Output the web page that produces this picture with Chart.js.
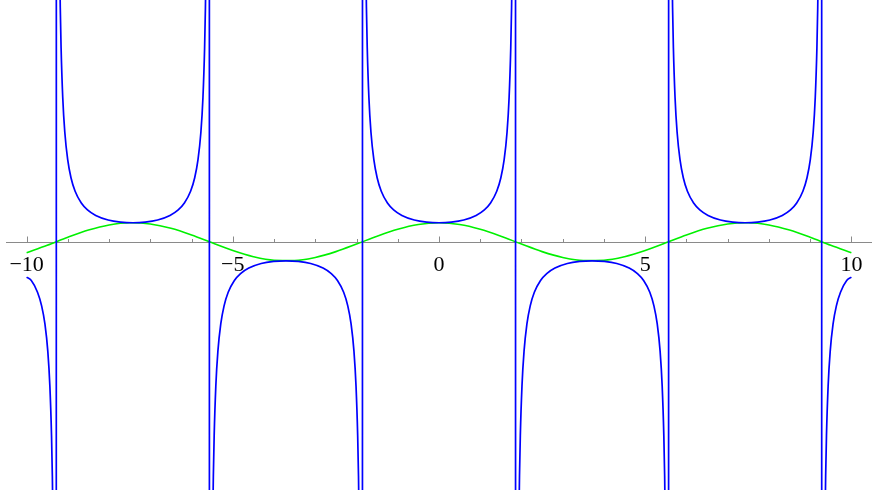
<!DOCTYPE html>
<html>
<head>
<meta charset="utf-8">
<script src="https://cdn.jsdelivr.net/npm/chart.js@4/dist/chart.umd.min.js"></script>
<style>
  html, body { margin: 0; padding: 0; background: #fff; }
  canvas { display: block; }
</style>
</head>
<body>
<canvas id="plot" width="872" height="490"></canvas>
<script>
// values
// green curve: smooth wave crossing the axis, peaks touching the blue curve
var greenX = [-10, -9.5, -9, -8.5, -8, -7.5, -7, -6.5, -6, -5.5, -5, -4.5, -4, -3.5, -3, -2.5, -2, -1.5, -1, -0.5,
              0, 0.5, 1, 1.5, 2, 2.5, 3, 3.5, 4, 4.5, 5, 5.5, 6, 6.5, 7, 7.5, 8, 8.5, 9, 9.5, 10];
var greenY = [-0.286, -0.092, 0.118, 0.307, 0.442, 0.499, 0.468, 0.355, 0.179, -0.029, -0.231, -0.393, -0.485, -0.492, -0.412, -0.259, -0.061, 0.148, 0.331, 0.456,
              0.5, 0.456, 0.331, 0.148, -0.061, -0.259, -0.412, -0.492, -0.485, -0.393, -0.231, -0.029, 0.179, 0.355, 0.468, 0.499, 0.442, 0.307, 0.118, -0.092, -0.286];

// blue curve: one line per branch, joined across the asymptotes by near-vertical segments
var blueX = [
  -10, -9.886, -9.736, -9.636, -9.556, -9.486, -9.436, -9.396, -9.376, -9.356, -9.326, -9.286,
  -9.274, -9.234, -9.204, -9.184, -9.164, -9.124, -9.074, -9.004, -8.924, -8.824, -8.674, -8.524, -8.324, -8.024, -7.724, -7.424,
  -7.124, -6.824, -6.524, -6.324, -6.174, -6.024, -5.924, -5.844, -5.774, -5.724, -5.684, -5.664, -5.644, -5.614, -5.574,
  -5.562, -5.522, -5.492, -5.472, -5.452, -5.412, -5.362, -5.292, -5.212, -5.112, -4.962, -4.812, -4.612, -4.312, -4.012, -3.712,
  -3.412, -3.112, -2.812, -2.612, -2.462, -2.312, -2.212, -2.132, -2.062, -2.012, -1.972, -1.952, -1.932, -1.902, -1.862,
  -1.85, -1.81, -1.78, -1.76, -1.74, -1.7, -1.65, -1.58, -1.5, -1.4, -1.25, -1.1, -0.9, -0.6, -0.3, 0,
  0.3, 0.6, 0.9, 1.1, 1.25, 1.4, 1.5, 1.58, 1.65, 1.7, 1.74, 1.76, 1.78, 1.81, 1.85,
  1.862, 1.902, 1.932, 1.952, 1.972, 2.012, 2.062, 2.132, 2.212, 2.312, 2.462, 2.612, 2.812, 3.112, 3.412, 3.712,
  4.012, 4.312, 4.612, 4.812, 4.962, 5.112, 5.212, 5.292, 5.362, 5.412, 5.452, 5.472, 5.492, 5.522, 5.562,
  5.574, 5.614, 5.644, 5.664, 5.684, 5.724, 5.774, 5.844, 5.924, 6.024, 6.174, 6.324, 6.524, 6.824, 7.124, 7.424,
  7.724, 8.024, 8.324, 8.524, 8.674, 8.824, 8.924, 9.004, 9.074, 9.124, 9.164, 9.184, 9.204, 9.234, 9.274,
  9.286, 9.326, 9.356, 9.376, 9.396, 9.436, 9.486, 9.556, 9.636, 9.736, 9.886, 10
];
var blueY = [
  -0.93, -1.019, -1.328, -1.685, -2.160, -2.882, -3.797, -5.10, -6.16, -7.76, -12.8, -98,
  98, 12.8, 7.76, 6.16, 5.10, 3.797, 2.882, 2.160, 1.685, 1.328, 1.019, 0.837, 0.691, 0.572, 0.517, 0.5,
  0.517, 0.572, 0.691, 0.837, 1.019, 1.328, 1.685, 2.160, 2.882, 3.797, 5.10, 6.16, 7.76, 12.8, 98,
  -98, -12.8, -7.76, -6.16, -5.10, -3.797, -2.882, -2.160, -1.685, -1.328, -1.019, -0.837, -0.691, -0.572, -0.517, -0.5,
  -0.517, -0.572, -0.691, -0.837, -1.019, -1.328, -1.685, -2.160, -2.882, -3.797, -5.10, -6.16, -7.76, -12.8, -98,
  98, 12.8, 7.76, 6.16, 5.10, 3.797, 2.882, 2.160, 1.685, 1.328, 1.019, 0.837, 0.691, 0.572, 0.517, 0.5,
  0.517, 0.572, 0.691, 0.837, 1.019, 1.328, 1.685, 2.160, 2.882, 3.797, 5.10, 6.16, 7.76, 12.8, 98,
  -98, -12.8, -7.76, -6.16, -5.10, -3.797, -2.882, -2.160, -1.685, -1.328, -1.019, -0.837, -0.691, -0.572, -0.517, -0.5,
  -0.517, -0.572, -0.691, -0.837, -1.019, -1.328, -1.685, -2.160, -2.882, -3.797, -5.10, -6.16, -7.76, -12.8, -98,
  98, 12.8, 7.76, 6.16, 5.10, 3.797, 2.882, 2.160, 1.685, 1.328, 1.019, 0.837, 0.691, 0.572, 0.517, 0.5,
  0.517, 0.572, 0.691, 0.837, 1.019, 1.328, 1.685, 2.160, 2.882, 3.797, 5.10, 6.16, 7.76, 12.8, 98,
  -98, -12.8, -7.76, -6.16, -5.10, -3.797, -2.882, -2.160, -1.685, -1.328, -1.019, -0.93
];

// axis ticks
var majorTicks = [-10, -5, 0, 5, 10];
var tickLabels = ['\u221210', '\u22125', '0', '5', '10'];
var minorTicks = [-9, -8, -7, -6, -4, -3, -2, -1, 1, 2, 3, 4, 6, 7, 8, 9];

function toPoints(xs, ys) {
  return xs.map(function (x, i) { return { x: x, y: ys[i] }; });
}

// draws the x axis through y = 0 with ticks pointing up and labels below
var axisPlugin = {
  id: 'mmaAxis',
  beforeDatasetsDraw: function (chart) {
    var ctx = chart.ctx;
    var xs = chart.scales.x, ys = chart.scales.y;
    var y0 = Math.round(ys.getPixelForValue(0)) + 0.5;
    ctx.save();
    ctx.strokeStyle = '#8a8a8a';
    ctx.lineWidth = 1;
    ctx.beginPath();
    ctx.moveTo(chart.chartArea.left, y0);
    ctx.lineTo(chart.chartArea.right, y0);
    majorTicks.forEach(function (v) {
      var px = Math.round(xs.getPixelForValue(v)) + 0.5;
      ctx.moveTo(px, y0);
      ctx.lineTo(px, y0 - 6);
    });
    minorTicks.forEach(function (v) {
      var px = Math.round(xs.getPixelForValue(v)) + 0.5;
      ctx.moveTo(px, y0);
      ctx.lineTo(px, y0 - 3.5);
    });
    ctx.stroke();

    ctx.fillStyle = '#000';
    ctx.font = '22px "Liberation Serif", "DejaVu Serif", serif';
    ctx.textAlign = 'center';
    ctx.textBaseline = 'alphabetic';
    majorTicks.forEach(function (v, i) {
      ctx.fillText(tickLabels[i], xs.getPixelForValue(v), y0 + 28);
    });
    ctx.restore();
  }
};

new Chart(document.getElementById('plot'), {
  type: 'line',
  data: {
    datasets: [
      {
        label: 'blue',
        data: toPoints(blueX, blueY),
        borderColor: '#0000ff',
        borderWidth: 1.7,
        pointRadius: 0,
        cubicInterpolationMode: 'monotone'
      },
      {
        label: 'green',
        data: toPoints(greenX, greenY),
        borderColor: '#00f000',
        borderWidth: 1.6,
        pointRadius: 0,
        cubicInterpolationMode: 'monotone'
      }
    ]
  },
  options: {
    responsive: false,
    animation: false,
    layout: { padding: { left: 6, right: 0, top: 0, bottom: 0 } },
    scales: {
      x: { type: 'linear', min: -10.5, max: 10.5, display: false },
      y: { type: 'linear', min: -6.53, max: 6.36, display: false }
    },
    plugins: {
      legend: { display: false },
      tooltip: { enabled: false }
    }
  },
  plugins: [axisPlugin]
});
</script>
</body>
</html>
